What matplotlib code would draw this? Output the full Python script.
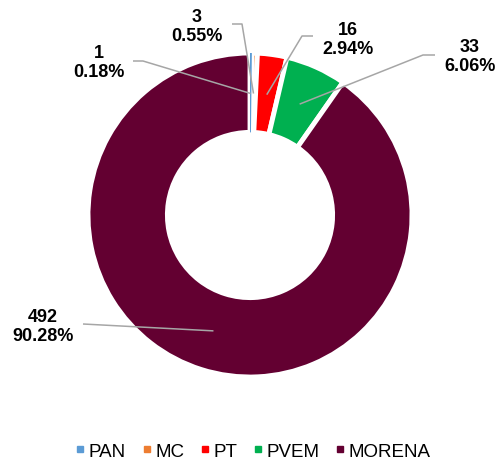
import numpy as np
import matplotlib
matplotlib.use("Agg")
import matplotlib.pyplot as plt
from matplotlib.lines import Line2D

plt.rcParams["font.family"] = ["Liberation Sans", "DejaVu Sans"]

PARTIES = ["PAN", "MC", "PT", "PVEM", "MORENA"]
SEATS = [1, 3, 16, 33, 492]
PCT_LABELS = ["0.18%", "0.55%", "2.94%", "6.06%", "90.28%"]
COLORS = ["#5B9BD5", "#ED7D31", "#FF0000", "#00B050", "#630031"]

W, H = 496, 464
CX, CY, R = 250, 216, 162


def px(x, y):
    # pixel position -> pie data coords (radius 1 = outer edge)
    return (x - CX) / R, (CY - y) / R


# label centre, leader start and kink, in pixels
LABEL_POS = [(99, 63), (197, 27), (348, 40), (470, 57), (43, 327)]
LEADER_START = [(133, 62), (232, 25), (313, 37), (435, 56), (83, 325)]
LEADER_KINK = [(143, 62), (242, 25), (302, 37), (423, 56), None]

fig = plt.figure(figsize=(W / 100, H / 100), dpi=100)
ax = fig.add_axes([0, 0, 1, 1])

wedges, _ = ax.pie(SEATS, colors=COLORS, startangle=90, counterclock=False,
                   radius=1, wedgeprops=dict(width=0.49, edgecolor="white",
                                             linewidth=3.5))
# tiny PAN slice stays visible as a thin sliver, like the original
wedges[0].set_linewidth(0)
wedges[0].set_zorder(3)

for i, w in enumerate(wedges):
    theta = np.deg2rad((w.theta1 + w.theta2) / 2)
    end = (0.75 * np.cos(theta), 0.75 * np.sin(theta))
    pts = [px(*LEADER_START[i])]
    if LEADER_KINK[i] is not None:
        pts.append(px(*LEADER_KINK[i]))
    pts.append(end)
    xs, ys = zip(*pts)
    ax.plot(xs, ys, color="#A6A6A6", lw=1.1, solid_capstyle="butt", zorder=5)
    tx, ty = px(*LABEL_POS[i])
    ax.text(tx, ty, f"{SEATS[i]}\n{PCT_LABELS[i]}", ha="center", va="center",
            fontsize=13, fontweight="bold", color="black", linespacing=1.2)

ax.set_xlim(-CX / R, (W - CX) / R)
ax.set_ylim(-(H - CY) / R, CY / R)
ax.set_aspect("auto")
ax.set_position([0, 0, 1, 1])
ax.axis("off")

handles = [Line2D([], [], marker="s", linestyle="none", markersize=5,
                  markerfacecolor=c, markeredgecolor=c) for c in COLORS]
fig.legend(handles, PARTIES, loc="center", bbox_to_anchor=(0.51, 1 - 452 / H),
           ncol=5, frameon=False, fontsize=13.5, handlelength=0.5,
           handletextpad=0.2, columnspacing=0.85)

fig.savefig("out.png", dpi=100, facecolor="white")
